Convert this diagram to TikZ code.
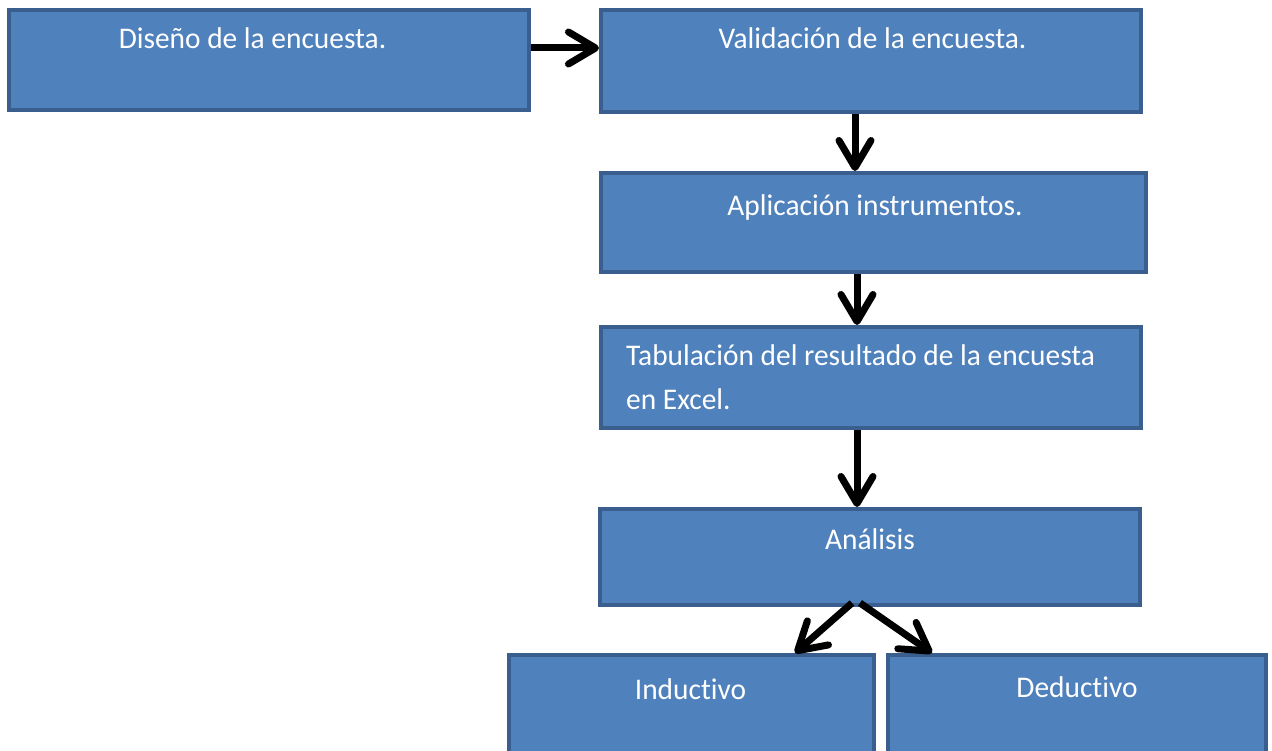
\documentclass[tikz,border=0pt]{standalone}
\usepackage{fontspec}
\setmainfont[FakeStretch=0.98,Ligatures=NoCommon]{Carlito}
\usetikzlibrary{arrows.meta}
\definecolor{boxfill}{HTML}{4F81BD}
\definecolor{boxborder}{HTML}{3A5F8E}
\tikzset{
  box/.style={draw=boxborder, fill=boxfill, line width=4pt, rectangle, inner sep=0pt},
  txt/.style={text=white, font=\fontsize{30}{43}\selectfont, inner sep=0pt, anchor=base},
  conn/.style={line width=7pt, draw=black, -{Straight Barb[length=27pt,width=32pt,round]}}
}
\begin{document}
\begin{tikzpicture}[x=1pt,y=-1pt]
\useasboundingbox (0,0) rectangle (1272,751);
\clip (0,0) rectangle (1272,751);
\node[box, minimum width=520pt, minimum height=100pt] (b1) at (269,60) {};
\node[box, minimum width=540pt, minimum height=102pt] (b2) at (871,61) {};
\node[box, minimum width=545pt, minimum height=99pt] (b3) at (873.5,222.5) {};
\node[box, minimum width=540pt, minimum height=101pt] (b4) at (871,377.5) {};
\node[box, minimum width=540pt, minimum height=96pt] (b5) at (870,557) {};
\node[box, minimum width=365pt, minimum height=108pt] (b6) at (691.5,709) {};
\node[box, minimum width=378pt, minimum height=108pt] (b7) at (1077,709) {};
\node[txt] (t1) at (252.5,49) {Diseño de la encuesta.};
\node[txt] (t2) at (872.5,49) {Validación de la encuesta.};
\node[txt] (t3) at (875,216) {Aplicación instrumentos.};
\node[txt, anchor=base west] (t4a) at (626,366) {Tabulación del resultado de la encuesta};
\node[txt, anchor=base west] (t4b) at (626,409) {en Excel.};
\node[txt] (t5) at (870,549) {Análisis};
\node[txt] (t6) at (690.5,699) {Inductivo};
\node[txt] (t7) at (1077,697) {Deductivo};
\draw[conn] ([yshift=12pt]b1.east) -- ([yshift=12pt]b1.east -| b2.west);
\draw[conn] ([xshift=-16pt]b2.south) -- ([xshift=-16pt]b2.south |- b3.north);
\draw[conn] ([xshift=-16.5pt]b3.south) -- ([xshift=-16.5pt]b3.south |- b4.north);
\draw[conn] ([xshift=-14pt]b4.south) -- ([xshift=-14pt]b4.south |- b5.north);
\draw[conn] ([xshift=-18pt,yshift=4pt]b5.south) -- ([xshift=103.5pt]b6.north);
\draw[conn] ([xshift=-10pt,yshift=4pt]b5.south) -- ([xshift=-145pt]b7.north);
\end{tikzpicture}
\end{document}
